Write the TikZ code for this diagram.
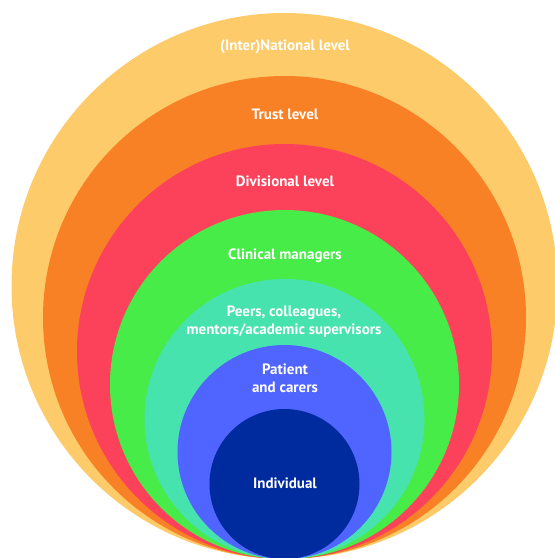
\documentclass[tikz,border=0pt]{standalone}
\usepackage{fontspec}
\setmainfont{PT Sans}
\definecolor{cNat}{HTML}{FDCB69}
\definecolor{cTrust}{HTML}{F98125}
\definecolor{cDiv}{HTML}{FC425A}
\definecolor{cClin}{HTML}{48EC48}
\definecolor{cPeer}{HTML}{47E3AE}
\definecolor{cPat}{HTML}{5064FF}
\definecolor{cInd}{HTML}{002B9E}
\tikzset{
  lbl/.style={text=white, font=\bfseries\fontsize{15}{18}\selectfont, align=center, inner sep=0pt},
}
\begin{document}
\begin{tikzpicture}[x=1pt,y=-1pt]
\useasboundingbox[fill=white] (0,0) rectangle (555,558);
\def\cx{284.5}
\def\by{559}
\foreach \r/\c in {273/cNat, 241.5/cTrust, 207.5/cDiv, 174.5/cClin, 140/cPeer, 107/cPat, 75/cInd}{
  \fill[\c] (\cx,\by-\r) circle (\r);
}
\node[lbl] (nat) at (285,47) {(Inter)National level};
\node[lbl] (trust) at (285,114) {Trust level};
\node[lbl] (div) at (285,181) {Divisional level};
\node[lbl] (clin) at (285,256) {Clinical managers};
\node[lbl] (peer) at (284,322) {Peers, colleagues,\\mentors/academic supervisors};
\node[lbl] (pat) at (285,378) {Patient\\and carers};
\node[lbl] (ind) at (285,483) {Individual};
\end{tikzpicture}
\end{document}
